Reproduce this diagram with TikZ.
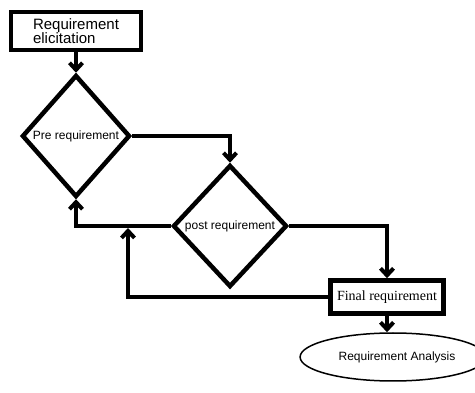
\documentclass[tikz,border=0pt]{standalone}
\usepackage{fontspec}
\setmainfont{Liberation Sans}
\newfontfamily\timesfont{Liberation Serif}
\usetikzlibrary{shapes.geometric,arrows.meta}

\begin{document}
\begin{tikzpicture}[x=1pt,y=1pt,
    box/.style={draw, line width=4.5pt, inner sep=0pt},
    decision/.style={draw, diamond, line width=4.5pt, inner sep=0pt, font=\fontsize{12}{14}\selectfont},
    line/.style={line width=4pt, -{Straight Barb[length=7pt,width=13pt]}}]
    \useasboundingbox (0,0) rectangle (475,-393);

    \node[box, minimum width=130pt, minimum height=38pt, align=left,
          font=\fontsize{15}{14}\selectfont] (elic) at (76,-31) {Requirement\\elicitation};
    \node[decision, minimum width=108pt, minimum height=122pt] (pre) at (76,-136) {Pre requirement};
    \node[decision, minimum width=114pt, minimum height=122pt] (post) at (230,-226) {post requirement};
    \node[box, minimum width=113pt, minimum height=33pt,
          font=\timesfont\fontsize{14}{16}\selectfont] (final) at (387,-297) {Final requirement};
    \node[draw, ellipse, line width=1.5pt, minimum width=156pt, minimum height=48pt,
          font=\fontsize{12}{14}\selectfont] (ana) at (393,-357) {\hspace{8pt}Requirement Analysis};
    \coordinate (back) at (128,-228);

    \draw[line] (elic.south) -- (pre.north);
    \draw[line] (pre.east) -| (post.north);
    \draw[line] (post.west) -| (pre.south);
    \draw[line] (post.east) -| (final.north);
    \draw[line] (final.west) -| (back);
    \draw[line] (final.south) -- (final.south |- ana.north);

\end{tikzpicture}
\end{document}
